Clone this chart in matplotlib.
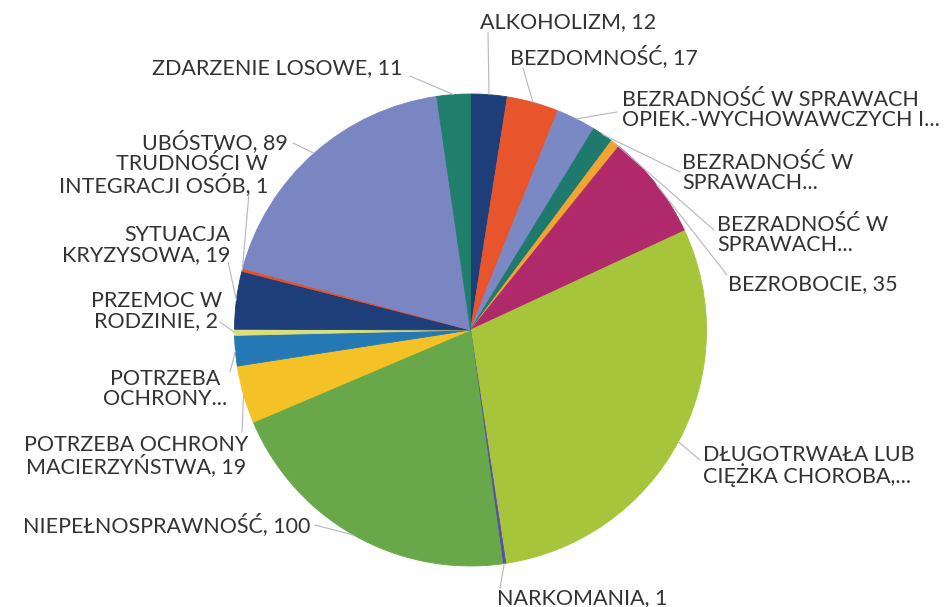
import numpy as np
import matplotlib
matplotlib.use("Agg")
import matplotlib.pyplot as plt

categories = ["ALKOHOLIZM", "BEZDOMNOŚĆ", "BEZRADNOŚĆ W SPRAWACH OPIEK.-WYCHOWAWCZYCH I PROWADZENIA GOSPODARSTWA DOMOWEGO",
              "BEZRADNOŚĆ W SPRAWACH (2)", "BEZRADNOŚĆ W SPRAWACH (3)", "BEZROBOCIE",
              "DŁUGOTRWAŁA LUB CIĘŻKA CHOROBA", "NARKOMANIA", "NIEPEŁNOSPRAWNOŚĆ",
              "POTRZEBA OCHRONY MACIERZYŃSTWA", "POTRZEBA OCHRONY (2)", "PRZEMOC W RODZINIE",
              "SYTUACJA KRYZYSOWA", "TRUDNOŚCI W INTEGRACJI OSÓB", "UBÓSTWO", "ZDARZENIE LOSOWE"]
values = [12, 17, 13, 7, 3, 35, 142, 1, 100, 19, 10, 2, 19, 1, 89, 11]
labels = ["ALKOHOLIZM, 12", "BEZDOMNOŚĆ, 17", "BEZRADNOŚĆ W SPRAWACH\nOPIEK.-WYCHOWAWCZYCH I...",
          "BEZRADNOŚĆ W\nSPRAWACH...", "BEZRADNOŚĆ W\nSPRAWACH...", "BEZROBOCIE, 35",
          "DŁUGOTRWAŁA LUB\nCIĘŻKA CHOROBA,...", "NARKOMANIA, 1", "NIEPEŁNOSPRAWNOŚĆ, 100",
          "POTRZEBA OCHRONY\nMACIERZYŃSTWA, 19", "POTRZEBA\nOCHRONY...", "PRZEMOC W\nRODZINIE, 2",
          "SYTUACJA\nKRYZYSOWA, 19", "TRUDNOŚCI W\nINTEGRACJI OSÓB, 1", "UBÓSTWO, 89", "ZDARZENIE LOSOWE, 11"]
colors = ["#1d3e78", "#e8552d", "#7a88c4", "#1f7a6e", "#f0a531", "#b02a6b",
          "#a7c53a", "#5650a8", "#69a84a", "#f4c227", "#2479b5", "#d8df7c",
          "#1d3e78", "#e8502a", "#7a86c2", "#1f7f6c"]

# label layout in pixels (top-left origin): text x, text y, ha, multialign, leader end x, end y
layout = [
    (480, 22, "left", "left", 488, 32),
    (510, 57, "left", "left", 523, 68),
    (622, 110, "left", "left", 617, 112),
    (682, 173, "left", "left", 680, 172),
    (717, 235, "left", "left", 714, 230),
    (728, 284, "left", "left", 727, 275),
    (703, 466, "left", "left", 700, 460),
    (497, 598, "left", "left", 500, 588),
    (310, 525, "right", "right", 315, 525),
    (248, 456, "right", "center", 242, 432),
    (227, 389, "right", "center", 230, 372),
    (222, 311, "right", "center", 220, 322),
    (230, 245, "right", "right", 228, 262),
    (268, 175, "right", "right", 249, 193),
    (288, 142, "right", "right", 293, 143),
    (402, 68, "right", "right", 410, 76),
]

W, H = 946, 607
cx, cy, r = 470.5, 330, 236

fig = plt.figure(figsize=(W / 100, H / 100), dpi=100)
fig.patch.set_facecolor("white")
ax = fig.add_axes([(cx - r) / W, (H - cy - r) / H, 2 * r / W, 2 * r / H])

wedges, _ = ax.pie(values, colors=colors, startangle=90, counterclock=False,
                   radius=1.0, center=(0, 0),
                   wedgeprops=dict(linewidth=0))
for w, c in zip(wedges, colors):
    w.set_edgecolor(c)
    w.set_linewidth(0.6)
ax.set_xlim(-1, 1)
ax.set_ylim(-1, 1)
ax.set_aspect("equal")
ax.axis("off")

def fig_px(x, y):
    return (x / W, 1 - y / H)

for w, lab, (tx, ty, ha, ma, ex, ey) in zip(wedges, labels, layout):
    ang = np.deg2rad((w.theta1 + w.theta2) / 2)
    px, py = np.cos(ang), np.sin(ang)
    ax.annotate("", xy=(px, py), xycoords="data",
                xytext=fig_px(ex, ey), textcoords="figure fraction",
                arrowprops=dict(arrowstyle="-", color="#b4b6c4", lw=0.8,
                                shrinkA=0, shrinkB=0))
    fig.text(*fig_px(tx, ty), lab, ha=ha, va="center", multialignment=ma,
             fontsize=15.5, family=["Lato", "DejaVu Sans"], color="#333333",
             linespacing=0.95)

fig.savefig("out.png", dpi=100, facecolor="white")
